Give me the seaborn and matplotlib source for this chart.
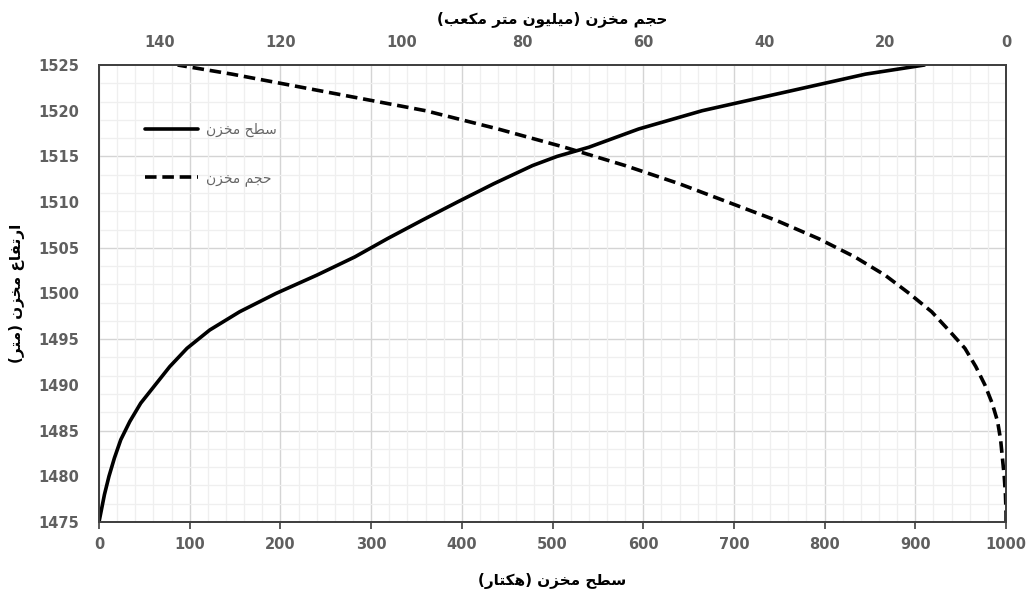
import numpy as np
import pandas as pd
import matplotlib
matplotlib.use("Agg")
import matplotlib.pyplot as plt
import seaborn as sns

# ---------------- data ----------------
elevation = [1475, 1476, 1477, 1478, 1480, 1482, 1484, 1486, 1488, 1490, 1492, 1494,
             1496, 1498, 1500, 1502, 1504, 1506, 1508, 1510, 1512, 1514, 1515, 1516,
             1518, 1520, 1522, 1524, 1525]
area_ha = [0, 2, 4, 6, 11, 17, 24, 34, 46, 62, 78, 97,
           122, 155, 195, 240, 282, 318, 356, 395, 435, 478, 505, 540,
           595, 665, 755, 845, 910]
volume_mcm = [0, 0, 0.05, 0.1, 0.3, 0.6, 0.9, 1.4, 2.3, 3.5, 5.0, 6.8,
              9.5, 12.3, 16.0, 20.0, 25.0, 31.0, 38.0, 46.0, 54.0, 63.0, 68.0, 73.0,
              84.0, 96.0, 112.0, 128.0, 137.0]

bottom_ticks = [0, 100, 200, 300, 400, 500, 600, 700, 800, 900, 1000]
top_ticks = [0, 20, 40, 60, 80, 100, 120, 140]
y_ticks = [1475, 1480, 1485, 1490, 1495, 1500, 1505, 1510, 1515, 1520, 1525]

label_area = "سطح مخزن"
label_volume = "حجم مخزن"
xlabel_bottom = "سطح مخزن (هکتار)"
xlabel_top = "حجم مخزن (میلیون متر مکعب)"
ylabel_left = "ارتفاع مخزن (متر)"

# ------------- simple Persian shaping (presentation forms + RTL) -------------
FORMS = {
    'ا': (0xFE8D, 0xFE8E, None, None),
    'ب': (0xFE8F, 0xFE90, 0xFE91, 0xFE92),
    'ت': (0xFE95, 0xFE96, 0xFE97, 0xFE98),
    'ج': (0xFE9D, 0xFE9E, 0xFE9F, 0xFEA0),
    'ح': (0xFEA1, 0xFEA2, 0xFEA3, 0xFEA4),
    'خ': (0xFEA5, 0xFEA6, 0xFEA7, 0xFEA8),
    'د': (0xFEA9, 0xFEAA, None, None),
    'ر': (0xFEAD, 0xFEAE, None, None),
    'ز': (0xFEAF, 0xFEB0, None, None),
    'س': (0xFEB1, 0xFEB2, 0xFEB3, 0xFEB4),
    'ط': (0xFEC1, 0xFEC2, 0xFEC3, 0xFEC4),
    'ع': (0xFEC9, 0xFECA, 0xFECB, 0xFECC),
    'ف': (0xFED1, 0xFED2, 0xFED3, 0xFED4),
    'ک': (0xFED9, 0xFEDA, 0xFEDB, 0xFEDC),
    'ل': (0xFEDD, 0xFEDE, 0xFEDF, 0xFEE0),
    'م': (0xFEE1, 0xFEE2, 0xFEE3, 0xFEE4),
    'ن': (0xFEE5, 0xFEE6, 0xFEE7, 0xFEE8),
    'ه': (0xFEE9, 0xFEEA, 0xFEEB, 0xFEEC),
    'و': (0xFEED, 0xFEEE, None, None),
    'ی': (0xFEEF, 0xFEF0, 0xFEF3, 0xFEF4),
}


def shape(text):
    out = []
    n = len(text)
    for i, ch in enumerate(text):
        if ch not in FORMS:
            out.append(ch)
            continue
        f = FORMS[ch]
        prev = text[i - 1] if i > 0 else ''
        nxt = text[i + 1] if i < n - 1 else ''
        join_prev = prev in FORMS and FORMS[prev][2] is not None
        join_next = nxt in FORMS and f[2] is not None
        if join_prev and join_next:
            cp = f[3]
        elif join_prev:
            cp = f[1]
        elif join_next:
            cp = f[2]
        else:
            cp = f[0]
        out.append(chr(cp))
    vis = ''.join(reversed(out))
    vis = vis.translate(str.maketrans({'(': ')', ')': '('}))
    return vis


# ---------------- plot ----------------
sns.set_theme(style="white")
plt.rcParams['font.family'] = ['DejaVu Sans']

fig = plt.figure(figsize=(10.27, 5.91), dpi=100)
ax = fig.add_axes([0.0964, 0.1168, 0.8832, 0.7732])

df = pd.DataFrame({"elev": elevation, "area": area_ha, "vol": volume_mcm})

sns.lineplot(data=df, x="area", y="elev", sort=False, estimator=None, ax=ax,
             color="black", linewidth=2.6, label=shape(label_area), legend=False)

ax2 = ax.twiny()
sns.lineplot(data=df, x="vol", y="elev", sort=False, estimator=None, ax=ax2,
             color="black", linewidth=2.6, label=shape(label_volume), legend=False)
ax2.lines[0].set_linestyle((0, (3.2, 1.6)))
ax2.lines[0].set_solid_capstyle('butt')

ax.set_xlim(0, 1000)
ax.set_ylim(1475, 1525)
ax2.set_xlim(150, 0)
ax2.set_ylim(1475, 1525)

ax.set_xticks(bottom_ticks)
ax.set_yticks(y_ticks)
ax2.set_xticks(top_ticks)
ax.set_xticks(np.arange(0, 1001, 20), minor=True)
ax.set_yticks(np.arange(1477, 1525, 2), minor=True)

# grid
ax.grid(False)
ax2.grid(False)
ax.set_axisbelow(True)
ax.grid(which='minor', axis='both', color='#efefef', linewidth=0.9)
ax.grid(which='major', axis='x', color='#d4d4d4', linewidth=1.0)
for yv in [1485, 1495, 1505, 1515]:
    ax.axhline(yv, color='#d4d4d4', linewidth=1.0, zorder=0.5)

tick_color = '#5f5f5f'
ax.tick_params(axis='x', which='major', direction='out', length=5, width=1.2,
               color='#404040', pad=6, labelsize=10.5, labelcolor=tick_color,
               bottom=True)
ax.tick_params(axis='y', which='major', length=0, pad=14, labelsize=10.5,
               labelcolor=tick_color)
ax.tick_params(which='minor', length=0)
ax2.tick_params(axis='x', which='major', length=0, pad=11, labelsize=10.5,
                labelcolor=tick_color)
ax2.tick_params(which='minor', length=0)
for lab in ax.get_xticklabels() + ax.get_yticklabels() + ax2.get_xticklabels():
    lab.set_fontweight('bold')

for a in (ax, ax2):
    for s in a.spines.values():
        s.set_color('#404040')
        s.set_linewidth(1.3)

ax.set_xlabel(shape(xlabel_bottom), fontsize=11, fontweight='bold', color='black',
              labelpad=15)
ax2.set_xlabel(shape(xlabel_top), fontsize=11, fontweight='bold', color='black',
               labelpad=8)
ax.set_ylabel(shape(ylabel_left), fontsize=11, fontweight='bold', color='black',
              labelpad=10)

h1, l1 = ax.get_legend_handles_labels()
h2, l2 = ax2.get_legend_handles_labels()
leg = ax2.legend(h1 + h2, l1 + l2, loc='upper left', bbox_to_anchor=(0.045, 0.885),
                 frameon=False, fontsize=10, handlelength=3.8, labelspacing=2.45,
                 handletextpad=0.6, borderaxespad=0)
for t in leg.get_texts():
    t.set_color('#666666')

fig.savefig("out.png", dpi=100)
